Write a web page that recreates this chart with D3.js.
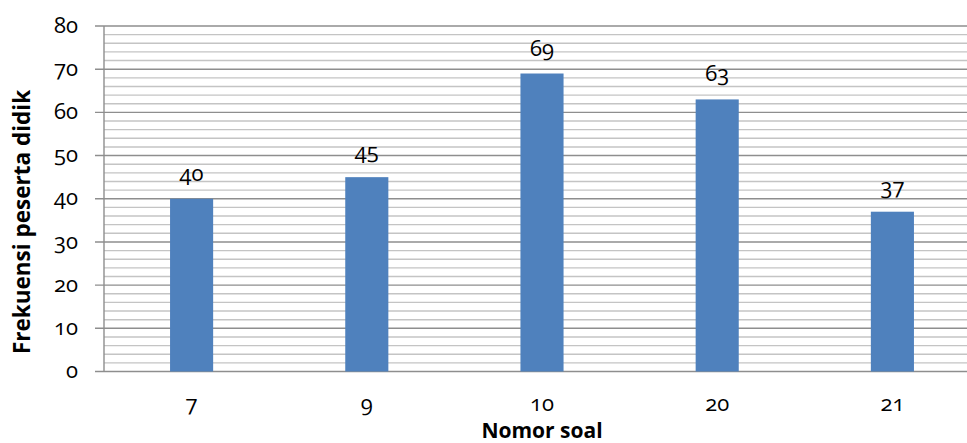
<!DOCTYPE html>
<html>
<head>
<meta charset="utf-8">
<script src="https://cdn.jsdelivr.net/npm/d3@7"></script>
<style>
  html, body { margin: 0; padding: 0; background: #fff; }
  svg { display: block; }
  text { font-family: "Open Sans", "Noto Sans", sans-serif; font-variant-numeric: oldstyle-nums; fill: #000; }
</style>
</head>
<body>
<svg id="chart" width="967" height="443"></svg>
<script>
// Question numbers and how many students answered each
const categories = ["7", "9", "10", "20", "21"];
const values = [40, 45, 69, 63, 37];
const yTicks = [0, 10, 20, 30, 40, 50, 60, 70, 80];
const yMinorTicks = d3.range(0, 81, 2);
const xTitle = "Nomor soal";
const yTitle = "Frekuensi peserta didik";

const svg = d3.select("#chart");
const W = 967;
const plot = { left: 104, right: 980, top: 26, bottom: 371.5 };

const x = d3.scaleBand().domain(categories).range([plot.left, plot.right]);
const y = d3.scaleLinear().domain([0, 80]).range([plot.bottom, plot.top]);

// minor gridlines
svg.append("g").selectAll("line").data(yMinorTicks.filter(v => v % 10 !== 0)).join("line")
  .attr("x1", plot.left).attr("x2", W)
  .attr("y1", d => y(d)).attr("y2", d => y(d))
  .attr("stroke", "#c4c4c4").attr("stroke-width", 1.4);

// major gridlines with outward ticks
svg.append("g").selectAll("line").data(yTicks).join("line")
  .attr("x1", plot.left - 9).attr("x2", W)
  .attr("y1", d => y(d)).attr("y2", d => y(d))
  .attr("stroke", "#8e8e8e").attr("stroke-width", 1.4);

// vertical axis line
svg.append("line")
  .attr("x1", plot.left).attr("x2", plot.left)
  .attr("y1", y(80)).attr("y2", y(0))
  .attr("stroke", "#8e8e8e").attr("stroke-width", 1.4);

// y tick labels
svg.append("g").selectAll("text").data(yTicks).join("text")
  .attr("x", 78).attr("y", d => y(d))
  .attr("dy", "0.3em")
  .attr("text-anchor", "end")
  .attr("font-size", 22)
  .text(d => d);

// bars
const barW = x.bandwidth() * 0.246;
svg.append("g").selectAll("rect").data(values).join("rect")
  .attr("x", (d, i) => x(categories[i]) + x.bandwidth() / 2 - barW / 2)
  .attr("y", d => y(d))
  .attr("width", barW)
  .attr("height", d => y(0) - y(d))
  .attr("fill", "#4f81bd");

// value labels
svg.append("g").selectAll("text").data(values).join("text")
  .attr("x", (d, i) => x(categories[i]) + x.bandwidth() / 2)
  .attr("y", d => y(d) - 18)
  .attr("text-anchor", "middle")
  .attr("font-size", 22)
  .text(d => d);

// x tick labels
svg.append("g").selectAll("text").data(categories).join("text")
  .attr("x", d => x(d) + x.bandwidth() / 2)
  .attr("y", 411)
  .attr("text-anchor", "middle")
  .attr("font-size", 22)
  .text(d => d);

// axis titles
svg.append("text")
  .attr("x", x("10") + x.bandwidth() / 2).attr("y", 438)
  .attr("text-anchor", "middle")
  .attr("font-size", 21).attr("font-weight", "bold")
  .text(xTitle);

svg.append("text")
  .attr("transform", "translate(30,222) rotate(-90)")
  .attr("text-anchor", "middle")
  .attr("font-size", 22.5).attr("font-weight", "bold")
  .text(yTitle);
</script>
</body>
</html>
